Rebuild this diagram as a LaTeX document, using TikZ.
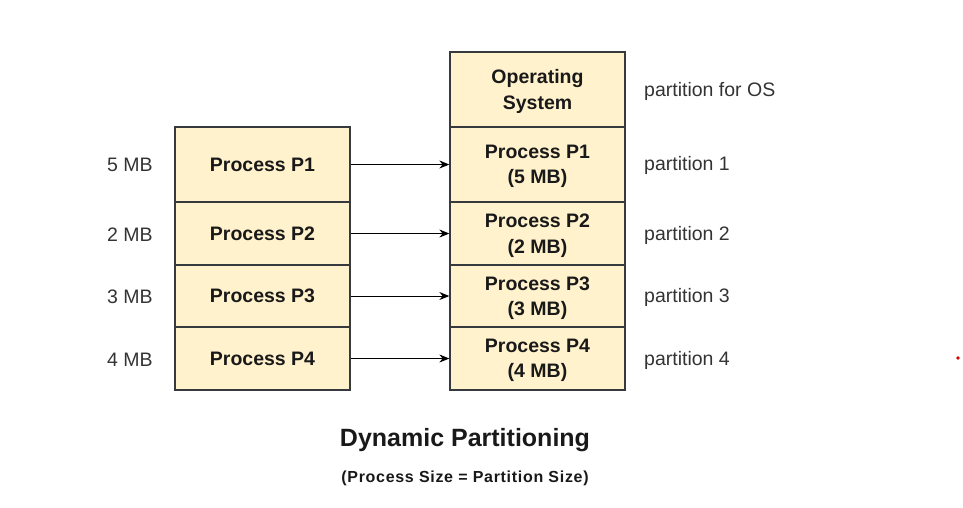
\documentclass[tikz,border=0pt]{standalone}
\usepackage{fontspec}
\setmainfont{Liberation Sans}
\newfontfamily\spacedfont[LetterSpace=4.4]{Liberation Sans}
\usetikzlibrary{arrows.meta}
\definecolor{boxfill}{HTML}{FFF2CC}
\definecolor{boxline}{HTML}{36393D}
\definecolor{labelgray}{HTML}{333333}
\tikzset{
  membox/.style={draw=boxline, fill=boxfill, line width=1.3pt, minimum width=175pt, inner sep=0pt, align=center, font=\fontsize{19.5}{25.5}\selectfont\bfseries, text=black!90},
  twoline/.style={membox, text depth=0pt},
  sidelabel/.style={font=\fontsize{19.5}{22}\selectfont, text=labelgray, inner sep=0pt},
  link/.style={line width=1pt, -{Stealth[length=10pt,width=8pt]}}
}
\begin{document}
\begin{tikzpicture}[x=1pt,y=-1pt]
\useasboundingbox (0,0) rectangle (963,507);
% left column
\node[membox, minimum height=75pt] (l1) at (262.5,164.5) {Process P1};
\node[membox, minimum height=63pt] (l2) at (262.5,233.5) {Process P2};
\node[membox, minimum height=62pt] (l3) at (262.5,296) {Process P3};
\node[membox, minimum height=63pt] (l4) at (262.5,358.5) {Process P4};
% right column
\node[twoline, minimum height=75pt] (os) at (537.5,89.5) {Operating\\System};
\node[twoline, minimum height=75pt] (r1) at (537.5,164.5) {Process P1\\(5 MB)};
\node[twoline, minimum height=63pt] (r2) at (537.5,233.5) {Process P2\\(2 MB)};
\node[twoline, minimum height=62pt] (r3) at (537.5,296) {Process P3\\(3 MB)};
\node[twoline, minimum height=63pt] (r4) at (537.5,358.5) {Process P4\\(4 MB)};
% size labels
\node[sidelabel] (s1) at (130,165) {5 MB};
\node[sidelabel] (s2) at (130,235) {2 MB};
\node[sidelabel] (s3) at (130,297) {3 MB};
\node[sidelabel] (s4) at (130,360) {4 MB};
% partition labels
\node[sidelabel, anchor=west] (p0) at (644,91) {partition for OS};
\node[sidelabel, anchor=west] (p1) at (644,165) {partition 1};
\node[sidelabel, anchor=west] (p2) at (644,235) {partition 2};
\node[sidelabel, anchor=west] (p3) at (644,297) {partition 3};
\node[sidelabel, anchor=west] (p4) at (644,360) {partition 4};
% arrows
\draw[link] (l1.east) -- (r1.west);
\draw[link] (l2.east) -- (r2.west);
\draw[link] (l3.east) -- (r3.west);
\draw[link] (l4.east) -- (r4.west);
% titles
\node[font=\fontsize{25}{28}\selectfont\bfseries, text=black!90] (title) at (465,440) {Dynamic Partitioning};
\node[font=\spacedfont\fontsize{16}{18}\selectfont\bfseries, text=black!90] (sub) at (465,478) {(Process Size = Partition Size)};
% red dot
\fill[red!85!black] (958,358) circle (1.8pt);
\end{tikzpicture}
\end{document}
